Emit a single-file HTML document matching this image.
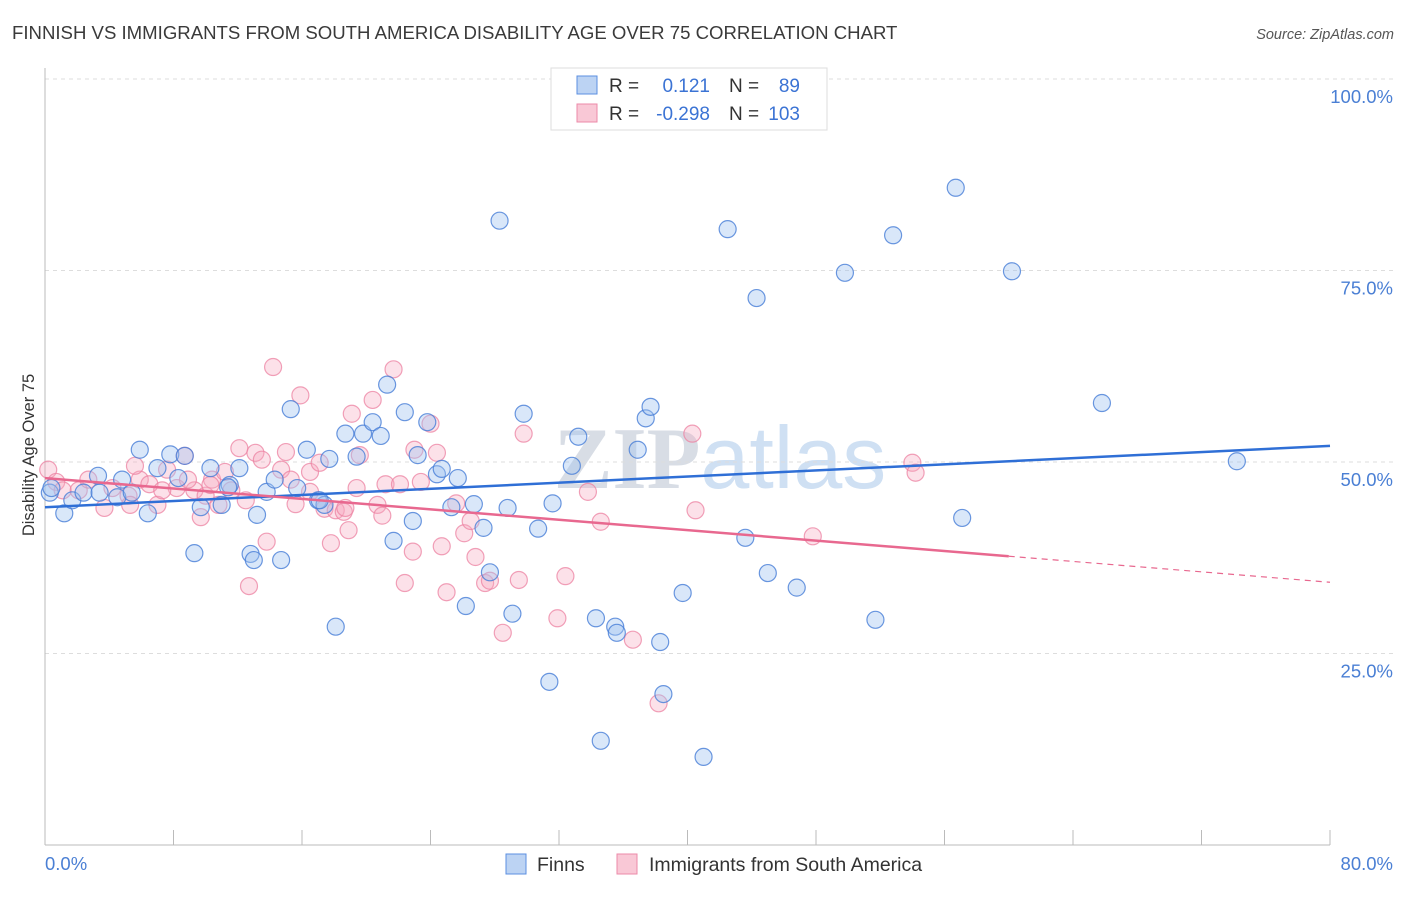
<!DOCTYPE html>
<html><head><meta charset="utf-8">
<style>
body{margin:0;background:#fff;font-family:"Liberation Sans",sans-serif;}
svg text{font-family:"Liberation Sans",sans-serif;}
</style></head>
<body>
<svg id="c" width="1406" height="892" xmlns="http://www.w3.org/2000/svg">
<text x="12" y="39" font-size="18.6" fill="#3a3a3a">FINNISH VS IMMIGRANTS FROM SOUTH AMERICA DISABILITY AGE OVER 75 CORRELATION CHART</text>
<text x="1394" y="39" font-size="14.5" fill="#555" font-style="italic" text-anchor="end">Source: ZipAtlas.com</text>
<text x="720" y="488" font-size="88" text-anchor="middle" fill="#e4e9f1"><tspan font-family="Liberation Serif" fill="#d8dde5" font-weight="bold">ZIP</tspan><tspan fill="#cfe0f3">atlas</tspan></text>
<g id="grid"></g>
<g id="axes"></g>
<g id="pts"></g>
<g id="lines"></g>
<text transform="translate(34,455) rotate(-90)" font-size="16.5" fill="#333" text-anchor="middle">Disability Age Over 75</text>
<g>
<rect x="551" y="68" width="276" height="62" fill="#fff" stroke="#ddd"/>
<rect x="577" y="76" width="20" height="18" fill="#bcd3f3" stroke="#5b8fe0"/>
<rect x="577" y="104" width="20" height="18" fill="#f9c8d6" stroke="#ec8aa8"/>
<text x="609" y="92" font-size="19" fill="#333">R = </text><text x="710" y="92" font-size="19" fill="#3b73d4" text-anchor="end">0.121</text>
<text x="729" y="92" font-size="19" fill="#333">N = </text><text x="800" y="92" font-size="19" fill="#3b73d4" text-anchor="end">89</text>
<text x="609" y="120" font-size="19" fill="#333">R = </text><text x="710" y="120" font-size="19" fill="#3b73d4" text-anchor="end">-0.298</text>
<text x="729" y="120" font-size="19" fill="#333">N = </text><text x="800" y="120" font-size="19" fill="#3b73d4" text-anchor="end">103</text>
</g>
<g>
<rect x="506" y="854" width="20" height="20" fill="#bcd3f3" stroke="#5b8fe0"/>
<text x="537" y="871" font-size="19.5" fill="#333">Finns</text>
<rect x="617" y="854" width="20" height="20" fill="#f9c8d6" stroke="#ec8aa8"/>
<text x="649" y="871" font-size="19.5" fill="#333">Immigrants from South America</text>
</g>
</svg>
<script>
const yTicks=[25,50,75,100];
const yTickLabels=["25.0%","50.0%","75.0%","100.0%"];
const xTickLabels=["0.0%","80.0%"];
const finnsX=[0.3,1.2,1.7,2.4,3.3,4.5,4.8,5.9,6.4,7.0,7.8,8.3,8.7,9.3,9.7,10.3,11.0,11.5,12.1,12.8,13.2,13.0,13.8,14.3,14.7,15.3,15.7,16.3,17.0,17.4,17.7,18.1,18.7,19.4,19.8,20.4,20.9,21.3,21.7,22.4,22.9,23.2,23.8,24.4,24.7,25.3,25.7,26.2,26.7,27.3,27.7,28.3,28.8,29.1,29.8,30.7,31.4,31.6,32.8,33.2,34.3,34.6,35.5,35.6,36.9,37.4,37.7,38.3,38.5,39.7,41.0,42.5,43.6,44.3,45.0,46.8,49.8,51.7,52.8,56.7,57.1,60.2,65.8,74.2,0.4,3.4,5.4,11.4,17.1];
const finnsY=[46.0,43.3,45.0,46.0,48.2,45.4,47.7,51.6,43.3,49.2,51.0,47.9,50.8,38.1,44.1,49.2,44.4,47.0,49.2,38.0,43.1,37.2,46.1,47.7,37.2,56.9,46.6,51.6,45.0,44.4,50.4,28.5,53.7,50.7,53.7,55.2,53.4,60.1,39.7,56.5,42.3,50.9,55.2,48.4,49.1,44.1,47.9,31.2,44.5,41.4,35.6,81.5,44.0,30.2,56.3,41.3,21.3,44.6,49.5,53.3,29.6,13.6,28.5,27.7,51.6,55.7,57.2,26.5,19.7,32.9,11.5,80.4,40.1,71.4,35.5,33.6,74.7,29.4,79.6,85.8,42.7,74.9,57.7,50.1,46.6,46.0,46.0,46.7,45.0];
const immX=[0.2,0.7,1.1,2.1,2.7,3.7,4.2,5.2,5.3,5.9,6.5,7.0,7.6,8.2,8.7,9.3,9.7,10.0,10.4,10.8,11.2,11.6,12.1,12.5,13.1,13.5,13.8,12.7,14.2,14.7,15.0,15.6,15.9,16.5,17.1,17.4,17.8,18.1,18.6,18.9,19.1,19.4,19.6,20.4,20.7,21.0,21.2,21.7,22.1,22.4,22.9,23.0,23.4,24.0,24.4,24.7,25.0,25.6,26.1,26.5,26.8,27.4,27.7,28.5,29.5,29.8,31.9,32.4,33.8,34.6,36.6,38.2,40.3,40.5,47.8,54.0,54.2,5.6,10.3,15.3,18.7,7.3,8.9,16.5];
const immY=[49.0,47.4,46.3,46.3,47.7,44.0,46.6,45.6,44.4,47.7,47.1,44.4,49.0,46.6,50.8,46.3,42.8,45.6,47.7,44.4,48.7,46.3,51.8,45.0,51.2,50.3,39.6,33.8,62.4,49.0,51.3,44.5,58.7,48.7,49.9,43.9,39.4,43.7,43.5,41.1,56.3,46.6,50.9,58.1,44.4,43.0,47.1,62.1,47.1,34.2,38.3,51.6,47.4,55.0,51.2,39.0,33.0,44.6,40.7,42.3,37.6,34.2,34.5,27.7,34.6,53.7,29.6,35.1,46.1,42.2,26.8,18.5,53.7,43.7,40.3,49.9,48.6,49.5,47.0,47.7,44.0,46.3,47.7,46.1];
const finnsFit=[44.1,52.1]; // value at x=0, x=80
const immFit=[47.9,37.7,34.3]; // at x=0, x=60, x=80
const NS="http://www.w3.org/2000/svg";
const X=v=>45+v*(1285/80);
const Y=v=>845-v*7.66;
function mk(tag,attrs,parent){const e=document.createElementNS(NS,tag);for(const k in attrs)e.setAttribute(k,attrs[k]);parent.appendChild(e);return e;}
const grid=document.getElementById('grid'),axes=document.getElementById('axes'),pts=document.getElementById('pts'),lines=document.getElementById('lines');
yTicks.forEach((t,i)=>{
 const l=mk('line',{x1:45,x2:1394,y1:Y(t),y2:Y(t),stroke:'#ddd','stroke-dasharray':'4,4'},grid);
 
 
 const tx=mk('text',{x:1393,y:Y(t)+24,'font-size':18.5,fill:'#4a7fd4','text-anchor':'end'},axes);
 tx.textContent=yTickLabels[i];
 
 
});
const ax=mk('line',{x1:45,x2:45,y1:68,y2:845,stroke:'#bbb'},axes);


const bx=mk('line',{x1:45,x2:1330,y1:845,y2:845,stroke:'#bbb'},axes);


for(let v=0;v<=80;v+=8){const t=mk('line',{x1:X(v),x2:X(v),y1:830,y2:845,stroke:'#bbb'},axes);
 
 }
const xl0=mk('text',{x:45,y:870,'font-size':18.5,fill:'#4a7fd4'},axes);xl0.textContent=xTickLabels[0];


const xl1=mk('text',{x:1393,y:870,'font-size':18.5,fill:'#4a7fd4','text-anchor':'end'},axes);xl1.textContent=xTickLabels[1];


immX.forEach((v,i)=>{const c=mk('circle',{cx:X(v),cy:Y(immY[i]),r:8.5,fill:'rgba(246,170,192,0.35)',stroke:'rgba(236,130,162,0.75)','stroke-width':1.2},pts);
 
 });
finnsX.forEach((v,i)=>{const c=mk('circle',{cx:X(v),cy:Y(finnsY[i]),r:8.5,fill:'rgba(160,195,240,0.4)',stroke:'rgba(70,125,215,0.8)','stroke-width':1.2},pts);
 
 });
const bl=mk('line',{x1:X(0),y1:Y(finnsFit[0]),x2:X(80),y2:Y(finnsFit[1]),stroke:'#2f6fd6','stroke-width':2.5},lines);


const pl=mk('line',{x1:X(0),y1:Y(immFit[0]),x2:X(60),y2:Y(immFit[1]),stroke:'#e8688f','stroke-width':2.5},lines);


const pd=mk('line',{x1:X(60),y1:Y(immFit[1]),x2:X(80),y2:Y(immFit[2]),stroke:'#e8688f','stroke-width':1.2,'stroke-dasharray':'6,5'},lines);


</script>
</body></html>
